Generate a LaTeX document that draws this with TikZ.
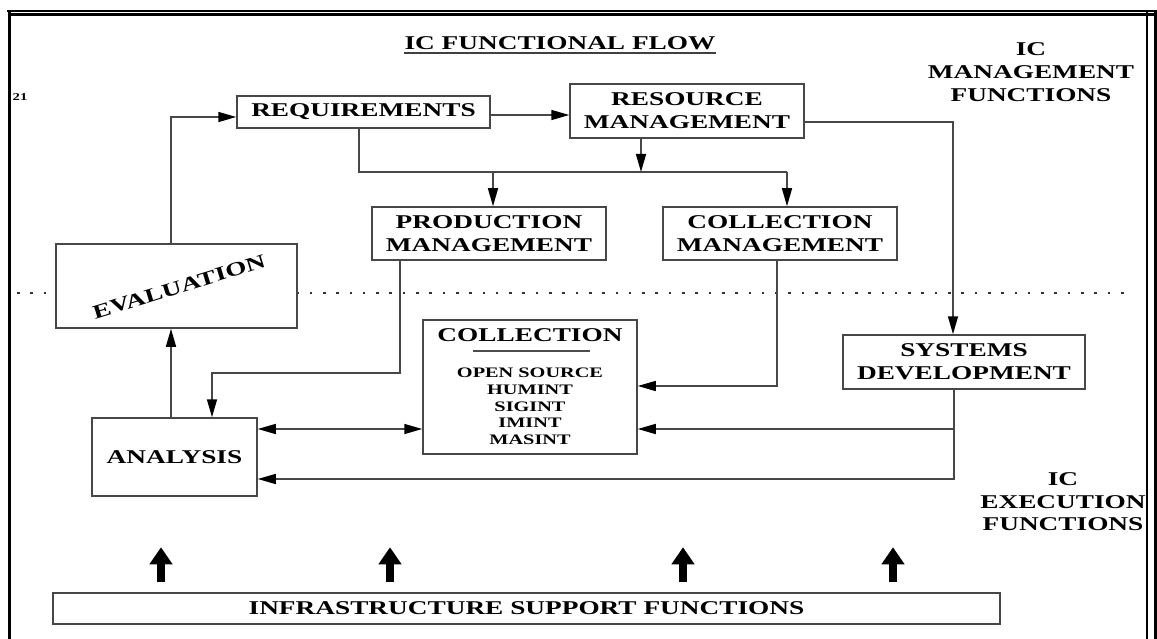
\documentclass[tikz,border=0pt]{standalone}
\usepackage{fontspec}
\newfontfamily\dgfont{Liberation Serif}[FakeStretch=1.4]
\usetikzlibrary{arrows.meta,calc}

\begin{document}
\begin{tikzpicture}[x=1pt,y=-1pt,
  txt/.style={inner sep=0pt, align=center, text=black,
    font=\dgfont\bfseries\fontsize{19.5}{23}\selectfont},
  box/.style={txt, draw=black!72, line width=1.5pt, fill=white},
  small/.style={inner sep=0pt, align=center,
    font=\dgfont\bfseries\fontsize{14.5}{16.7}\selectfont},
  wire/.style={draw=black!72, line width=1.5pt},
  link/.style={wire, -{Triangle[length=18pt,width=10pt,color=black]}},
  dlink/.style={wire, {Triangle[length=18pt,width=10pt,color=black]}-{Triangle[length=18pt,width=10pt,color=black]}},
  bigarrow/.style={draw=black, line width=8pt, -{Triangle[length=17pt,width=22pt]}},
  divider/.style={draw=black!80, line width=2.6pt, dash pattern=on 2.6pt off 10.7pt},
  frameline/.style={draw=black}
]
% page
\fill[white] (0,0) rectangle (1157,639);
\useasboundingbox (0,0) rectangle (1157,639);

% outer frame
\draw[frameline, line width=1.2pt] (7,11) -- (1157,11);
\draw[frameline, line width=2.5pt] (8,14.5) -- (1157,14.5);
\draw[frameline, line width=3.5pt] (9.5,10) -- (9.5,639);
\draw[frameline, line width=1.2pt] (1147,11) -- (1147,639);
\draw[frameline, line width=3pt] (1155,10) -- (1155,639);

% management / execution divider
\draw[divider] (17,293) -- (1127,293);

% headings
\node[txt, anchor=base] (title) at (560,50) {IC FUNCTIONAL FLOW};
\draw[draw=black!75, line width=1.5pt] ([yshift=-3pt]title.base west) -- ([yshift=-3pt]title.base east);
\node[inner sep=0pt, font=\dgfont\bfseries\fontsize{10.5}{11}\selectfont] (pagenum) at (20,97) {21};
\node[txt] (mgmtlbl) at (1031,72) {IC\\MANAGEMENT\\FUNCTIONS};
\node[txt, font=\dgfont\bfseries\fontsize{19.5}{22.5}\selectfont] (execlbl) at (1063,502) {IC\\EXECUTION\\FUNCTIONS};

% function boxes
\node[box, minimum width=253pt, minimum height=32pt] (req) at (363.5,112) {REQUIREMENTS};
\node[box, minimum width=234pt, minimum height=54pt] (res) at (687,111) {RESOURCE\\MANAGEMENT};
\node[box, minimum width=234pt, minimum height=53pt] (prod) at (489,233.5) {PRODUCTION\\MANAGEMENT};
\node[box, minimum width=234pt, minimum height=53pt] (cmg) at (780,233.5) {COLLECTION\\MANAGEMENT};
\node[box, minimum width=241pt, minimum height=84pt] (eval) at (176.5,286) {};
\node[txt, rotate=17] (evaltxt) at (179,287) {EVALUATION};
\node[box, minimum width=165pt, minimum height=78pt] (ana) at (174.5,457) {ANALYSIS};
\node[box, minimum width=214pt, minimum height=134pt] (col) at (530,387) {};
\node[txt] (coltitle) at (530,335) {COLLECTION};
\draw[draw=black!70, line width=1.5pt] ([xshift=-57pt,yshift=-16pt]coltitle.center) -- ([xshift=60pt,yshift=-16pt]coltitle.center);
\node[small] (colsrc) at (530,406.5) {OPEN SOURCE\\HUMINT\\SIGINT\\IMINT\\MASINT};
\node[box, minimum width=242pt, minimum height=54pt] (sys) at (964,362) {SYSTEMS\\DEVELOPMENT};
\node[box, minimum width=947pt, minimum height=31pt] (infra) at (526.5,608.5) {INFRASTRUCTURE SUPPORT FUNCTIONS};

% flow connectors
\draw[link] ([xshift=-5.5pt]eval.north) |- ([yshift=-5pt]req.west);
\draw[link] ([yshift=-3pt]req.east) -- ([yshift=-3pt]req.east -| res.west);
\coordinate (bus) at (787,172);
\draw[wire] ([xshift=-4.5pt]req.south) |- (bus);
\draw[link] (bus) -- (bus |- cmg.north);
\draw[link] ([xshift=4pt]prod.north |- bus) -- ([xshift=4pt]prod.north);
\draw[link] ([xshift=-46pt]res.south) -- ([xshift=-46pt]res.south |- bus);
\draw[link] ([yshift=-11pt]res.east) -| ([xshift=-11pt]sys.north);
\draw[link] ([xshift=-89pt]prod.south) -- ++(0,112) -| ([xshift=37.5pt]ana.north);
\draw[link] ([xshift=-3.5pt]ana.north) -- ([xshift=-3.5pt]ana.north |- eval.south);
\draw[dlink] ([yshift=28pt]ana.east) -- ([yshift=28pt]ana.east -| col.west);
\draw[link] ([xshift=-3pt]cmg.south) |- ([yshift=1pt]col.east);
\draw[link] ([xshift=-10pt]sys.south) |- ([yshift=-22pt]ana.east);
\coordinate (sysjoin) at (954,429);
\draw[link] (sysjoin) -- (sysjoin -| col.east);

% infrastructure support arrows
\draw[bigarrow] ([xshift=-365.5pt,yshift=10pt]infra.north) -- ++(0,-35);
\draw[bigarrow] ([xshift=-136.5pt,yshift=10pt]infra.north) -- ++(0,-35);
\draw[bigarrow] ([xshift=156.5pt,yshift=10pt]infra.north) -- ++(0,-35);
\draw[bigarrow] ([xshift=366.5pt,yshift=10pt]infra.north) -- ++(0,-35);
\end{tikzpicture}
\end{document}
